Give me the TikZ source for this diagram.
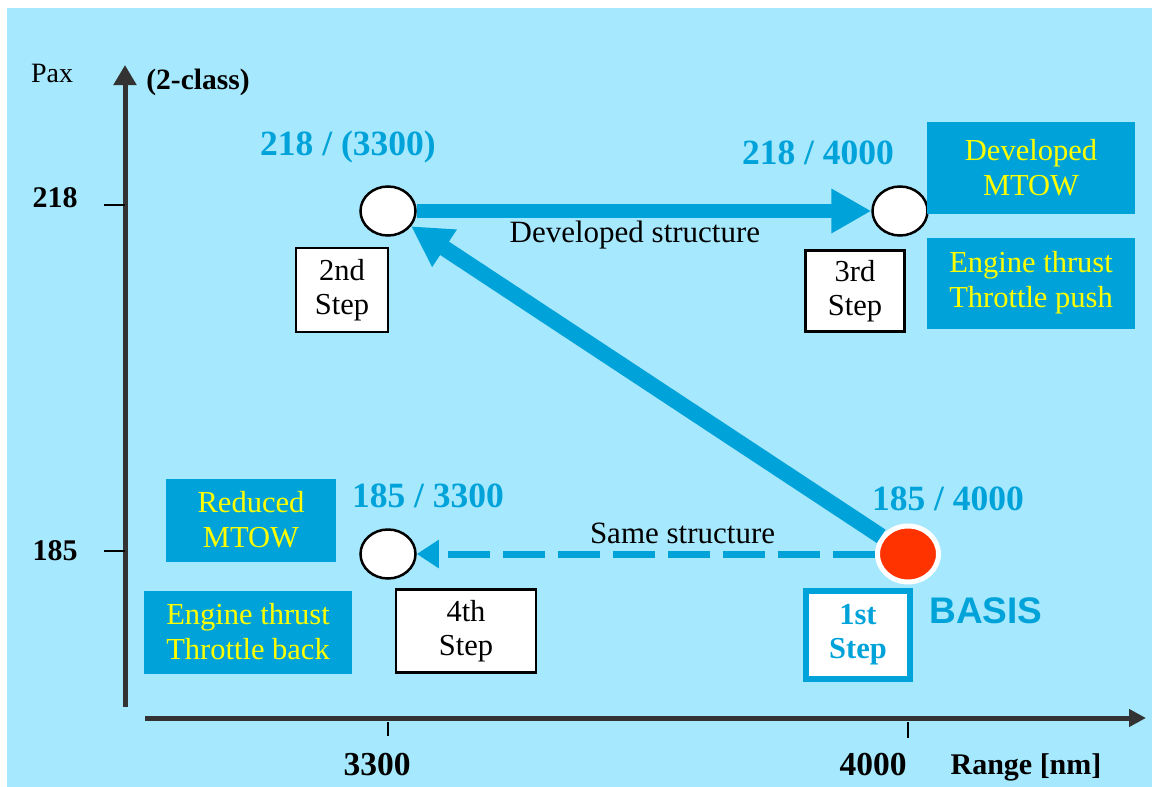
\documentclass[tikz,border=0pt]{standalone}
\usepackage{fontspec}
\setmainfont{Liberation Serif}
\newfontfamily\basisfont{Liberation Sans}
\usetikzlibrary{arrows.meta,shapes.geometric}

\definecolor{bgcyan}{HTML}{A6E8FD}
\definecolor{skyblue}{HTML}{00A3D9}
\definecolor{axisgray}{HTML}{333333}
\definecolor{basisred}{HTML}{FF3300}
\definecolor{textyellow}{HTML}{FFFF00}

\begin{document}
\begin{tikzpicture}[
    x=1pt, y=-1pt,
    axis/.style={draw=axisgray, line width=5pt},
    tick/.style={draw=black, line width=1.8pt},
    point/.style={ellipse, draw, fill=white, line width=2.5pt, minimum width=55pt, minimum height=49pt},
    basis/.style={ellipse, draw=white, fill=basisred, line width=5pt, minimum width=61pt, minimum height=56pt},
    stepbox/.style={rectangle, draw, fill=white, line width=2.5pt, align=center, inner sep=0pt, font=\fontsize{30.5}{34}\selectfont},
    infobox/.style={rectangle, fill=skyblue, text=textyellow, align=center, inner sep=0pt, font=\fontsize{30.5}{35}\selectfont},
    value/.style={text=skyblue, inner sep=0pt, font=\fontsize{35.5}{40}\selectfont\bfseries},
    axislabel/.style={inner sep=0pt, font=\fontsize{30}{36}\selectfont\bfseries},
    lbl/.style={inner sep=0pt, font=\fontsize{31}{35}\selectfont},
    bigarrow/.style={draw=skyblue, line width=14pt, -{Triangle[length=40pt,width=42pt]}},
    samearrow/.style={draw=skyblue, line width=7pt, dash pattern=on 42pt off 13pt, -{Triangle[length=22pt,width=27pt]}}
]

% Background
\useasboundingbox (0,0) rectangle (1152,787);
\fill[bgcyan] (7,8) rectangle (1152,787);

% Axes
\coordinate (yfoot) at (125,707);
\coordinate (ytip) at (125,65);
\coordinate (xfoot) at (145,718);
\coordinate (xtip) at (1146,718);
\draw[axis, -{Triangle[length=20pt,width=22pt]}] (yfoot) -- (ytip);
\draw[axis, -{Triangle[length=17pt,width=17pt]}] (xfoot) -- (xtip);

% Ticks
\draw[tick] (104,205) -- (125,205);
\draw[tick] (104,551) -- (125,551);
\draw[tick] (388,722) -- (388,736);
\draw[tick] (908,722) -- (908,738);

% Axis labels
\node[lbl, font=\fontsize{28}{34}\selectfont] (pax) at (52,73) {Pax};
\node[axislabel, font=\fontsize{29.5}{34}\selectfont\bfseries] (class) at (198,82) {(2-class)};
\node[axislabel] (y218) at (55,198) {218};
\node[axislabel] (y185) at (55,551) {185};
\node[axislabel, font=\fontsize{33.5}{38}\selectfont\bfseries] (x3300) at (377,765) {3300};
\node[axislabel, font=\fontsize{33.5}{38}\selectfont\bfseries] (x4000) at (873,765) {4000};
\node[axislabel] (range) at (1026,767) {Range [nm]};

% Design points
\node[point] (s2) at (388,211) {};
\node[point] (s3) at (900,211) {};
\node[point] (s4) at (388,554) {};
\node[basis] (s1) at (908,554) {};

% Values
\node[value] (v2) at (348,147) {218 / (3300)};
\node[value] (v3) at (818,153) {218 / 4000};
\node[value] (v4) at (428,496) {185 / 3300};
\node[value] (v1) at (948,499) {185 / 4000};

% Steps
\node[stepbox, minimum width=92pt, minimum height=84pt] (step2) at (342,290) {2nd\\Step};
\node[stepbox, minimum width=99pt, minimum height=81pt] (step3) at (855,291) {3rd\\Step};
\node[stepbox, minimum width=140pt, minimum height=83pt] (step4) at (466,631) {4th\\Step};
\node[stepbox, draw=skyblue, line width=6pt, text=skyblue, minimum width=104pt, minimum height=88pt,
      font=\fontsize{30.5}{34}\selectfont\bfseries] (step1) at (858,635) {1st\\Step};
\node[text=skyblue, inner sep=0pt, font=\basisfont\fontsize{37}{40}\selectfont\bfseries] (basislabel) at (986,611) {BASIS};

% Info boxes
\node[infobox, minimum width=208pt, minimum height=92pt] (devmtow) at (1031,168) {Developed\\MTOW};
\node[infobox, minimum width=208pt, minimum height=91pt] (push) at (1031,283) {Engine thrust\\Throttle push};
\node[infobox, minimum width=170pt, minimum height=83pt] (redmtow) at (251,520) {Reduced\\MTOW};
\node[infobox, minimum width=208pt, minimum height=83pt] (back) at (248,632) {Engine thrust\\Throttle back};

% Transitions
\path
    (s2) edge[bigarrow] node[lbl, pos=0.48, yshift=-24pt] {Developed structure} (s3)
    (s1) edge[bigarrow, line width=16pt] (s2)
    (s1) edge[samearrow] node[lbl, pos=0.42, yshift=21pt] {Same structure} (s4);

\end{tikzpicture}
\end{document}
